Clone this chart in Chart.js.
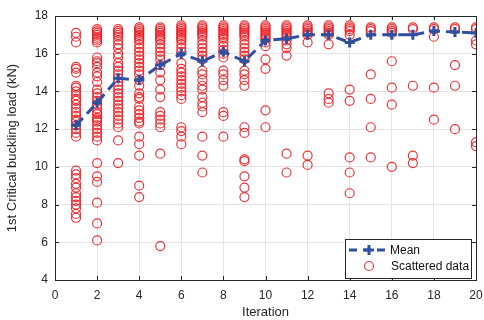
<!DOCTYPE html>
<html>
<head>
<meta charset="utf-8">
<script src="https://cdn.jsdelivr.net/npm/chart.js@4.4.0/dist/chart.umd.min.js"></script>
<style>
  html, body { margin: 0; padding: 0; background: #fff; }
  #wrap { width: 484px; height: 320px; }
</style>
</head>
<body>
<div id="wrap"><canvas id="loadChart" width="484" height="320"></canvas></div>
<script>
const iterations = [1, 2, 3, 4, 5, 6, 7, 8, 9, 10, 11, 12, 13, 14, 15, 16, 17, 18, 19, 20];
const meanLoad = [12.2, 13.4, 14.7, 14.6, 15.4, 16.0, 15.6, 16.1, 15.6, 16.7, 16.8, 17.0, 17.0, 16.6, 17.0, 17.0, 17.0, 17.2, 17.15, 17.1];

// scattered loads, one list per iteration
const scattered = [
    [17.1, 16.9, 16.6, 15.3, 15.2, 15.0, 14.3, 14.2, 14.0, 13.8, 13.6, 13.5, 13.3, 13.1, 12.9, 12.7, 12.5, 12.4, 12.2, 12.0, 11.8, 11.6, 9.8, 9.6, 9.4, 9.1, 8.9, 8.6, 8.4, 8.2, 8.0, 7.8, 7.5, 7.3],
    [17.3, 17.2, 17.1, 17.0, 16.9, 16.8, 16.7, 16.6, 15.8, 15.6, 15.5, 15.3, 15.0, 14.8, 14.5, 14.1, 13.9, 13.7, 13.5, 13.3, 13.1, 12.9, 12.8, 12.6, 12.5, 12.4, 12.2, 12.0, 11.8, 11.6, 11.4, 10.2, 9.5, 9.2, 8.1, 7.0, 6.1],
    [17.3, 17.2, 17.1, 17.0, 16.9, 16.7, 16.5, 16.3, 16.0, 15.8, 15.5, 15.3, 15.1, 14.9, 14.7, 14.5, 14.3, 14.1, 13.9, 13.7, 13.5, 13.3, 13.1, 12.9, 12.7, 12.5, 12.3, 12.1, 11.4, 10.2],
    [17.4, 17.3, 17.2, 17.1, 17.0, 16.9, 16.8, 16.7, 16.5, 16.3, 16.1, 15.9, 15.7, 15.5, 15.3, 15.1, 14.9, 14.6, 14.3, 13.9, 13.7, 13.6, 13.2, 13.0, 12.8, 12.6, 12.4, 12.3, 11.6, 11.2, 10.6, 9.0, 8.4],
    [17.4, 17.3, 17.2, 17.1, 17.0, 16.9, 16.8, 16.7, 16.5, 16.3, 16.1, 15.9, 15.7, 15.4, 15.0, 14.6, 14.1, 13.7, 12.9, 12.7, 12.5, 12.3, 12.1, 10.7, 5.8],
    [17.5, 17.4, 17.3, 17.2, 17.1, 17.0, 16.9, 16.8, 16.7, 16.5, 16.3, 16.1, 15.5, 15.2, 15.0, 14.8, 14.6, 14.4, 14.2, 14.0, 13.8, 13.6, 12.1, 11.9, 11.6, 11.2],
    [17.5, 17.4, 17.3, 17.2, 17.1, 17.0, 16.9, 16.7, 16.5, 16.3, 16.1, 15.9, 15.7, 15.1, 14.9, 14.6, 14.3, 14.1, 13.7, 13.4, 13.2, 12.9, 11.6, 10.6, 9.7],
    [17.5, 17.4, 17.3, 17.2, 17.1, 17.0, 16.9, 16.8, 16.6, 16.4, 16.2, 16.0, 15.8, 15.1, 14.9, 14.6, 14.3, 12.9, 12.7, 11.6],
    [17.5, 17.4, 17.3, 17.2, 17.1, 17.0, 16.9, 16.7, 16.5, 16.3, 16.1, 15.9, 15.7, 15.1, 14.9, 14.6, 14.3, 12.1, 11.8, 10.4, 10.3, 9.5, 8.9, 8.4],
    [17.5, 17.4, 17.3, 17.2, 17.1, 17.0, 16.9, 16.8, 16.6, 16.4, 15.7, 15.2, 13.0, 12.1],
    [17.5, 17.4, 17.3, 17.2, 17.1, 17.0, 16.9, 16.7, 16.5, 16.3, 15.9, 10.7, 9.7],
    [17.5, 17.4, 17.3, 17.2, 17.1, 17.0, 16.6, 10.6, 10.1],
    [17.5, 17.4, 17.3, 17.2, 17.1, 17.0, 16.5, 13.9, 13.6, 13.4],
    [17.5, 17.4, 17.3, 17.2, 17.0, 14.1, 13.5, 10.5, 9.7, 8.6],
    [17.4, 17.3, 17.2, 14.9, 13.6, 12.1, 10.5],
    [17.4, 17.3, 17.2, 17.1, 15.6, 14.2, 13.3, 10.0],
    [17.4, 17.3, 14.3, 10.6, 10.2],
    [17.4, 17.3, 16.9, 14.2, 12.5],
    [17.4, 17.3, 15.4, 14.3, 12.0],
    [17.4, 17.3, 16.7, 16.5, 11.3, 11.1]
];

const xRange = [0, 20];
const yRange = [4, 18];
const tickStep = 2;

const meanColor = '#2f4f9f';
const dotColor = 'rgba(236, 30, 36, 0.9)';
const axisColor = '#262626';
const fontFamily = '"Liberation Sans", Arial, sans-serif';

const scatterPoints = [];
scattered.forEach((vals, i) => {
    vals.forEach(v => scatterPoints.push({ x: iterations[i], y: v }));
});

// MATLAB-like box with inward ticks, plus legend inside the axes
const boxPlugin = {
    id: 'boxPlugin',
    afterDraw(chart) {
        const { ctx, chartArea: a, scales } = chart;
        ctx.save();
        ctx.strokeStyle = axisColor;
        ctx.lineWidth = 1;
        ctx.strokeRect(a.left + 0.5, a.top + 0.5, a.right - a.left, a.bottom - a.top);
        ctx.beginPath();
        scales.x.ticks.forEach(t => {
            const px = Math.round(scales.x.getPixelForValue(t.value)) + 0.5;
            ctx.moveTo(px, a.top); ctx.lineTo(px, a.top + 4);
            ctx.moveTo(px, a.bottom); ctx.lineTo(px, a.bottom - 4);
        });
        scales.y.ticks.forEach(t => {
            const py = Math.round(scales.y.getPixelForValue(t.value)) + 0.5;
            ctx.moveTo(a.left, py); ctx.lineTo(a.left + 4, py);
            ctx.moveTo(a.right, py); ctx.lineTo(a.right - 4, py);
        });
        ctx.stroke();

        // legend
        const lx = a.right - 131, ly = a.bottom - 41, lw = 126, lh = 39;
        ctx.fillStyle = '#fff';
        ctx.fillRect(lx, ly, lw, lh);
        ctx.strokeStyle = axisColor;
        ctx.strokeRect(lx + 0.5, ly + 0.5, lw, lh);

        const y1 = ly + 11, y2 = ly + 27;
        ctx.strokeStyle = meanColor;
        ctx.lineWidth = 3;
        ctx.setLineDash([8, 6]);
        ctx.beginPath();
        ctx.moveTo(lx + 4, y1); ctx.lineTo(lx + 44, y1);
        ctx.stroke();
        ctx.setLineDash([]);
        ctx.beginPath();
        ctx.moveTo(lx + 19, y1); ctx.lineTo(lx + 29, y1);
        ctx.moveTo(lx + 24, y1 - 5); ctx.lineTo(lx + 24, y1 + 5);
        ctx.stroke();

        ctx.strokeStyle = dotColor;
        ctx.lineWidth = 1.2;
        ctx.beginPath();
        ctx.arc(lx + 24, y2, 4.5, 0, Math.PI * 2);
        ctx.stroke();

        ctx.fillStyle = '#111';
        ctx.font = '12px ' + fontFamily;
        ctx.textBaseline = 'middle';
        ctx.fillText('Mean', lx + 45, y1 + 1);
        ctx.fillText('Scattered data', lx + 46, y2 + 1);
        ctx.restore();
    }
};

new Chart(document.getElementById('loadChart'), {
    type: 'scatter',
    data: {
        datasets: [{
            type: 'line',
            label: 'Mean',
            data: iterations.map((it, i) => ({ x: it, y: meanLoad[i] })),
            borderColor: meanColor,
            borderWidth: 3,
            borderDash: [10, 6],
            fill: false,
            tension: 0,
            pointStyle: 'cross',
            pointRadius: 5,
            pointBorderWidth: 3,
            pointBorderColor: meanColor,
            pointBackgroundColor: meanColor
        }, {
            label: 'Scattered data',
            data: scatterPoints,
            pointStyle: 'circle',
            pointRadius: 4.5,
            borderWidth: 1.2,
            borderColor: dotColor,
            backgroundColor: 'rgba(0,0,0,0)'
        }]
    },
    options: {
        responsive: false,
        animation: false,
        devicePixelRatio: 1,
        layout: { padding: { left: 0, top: 16, right: 7, bottom: 0 } },
        plugins: { legend: { display: false }, tooltip: { enabled: false } },
        scales: {
            x: {
                type: 'linear',
                min: xRange[0], max: xRange[1],
                ticks: { stepSize: tickStep, color: axisColor, padding: 8, maxRotation: 0, font: { family: fontFamily, size: 12 } },
                grid: { color: '#e4e4e4', drawTicks: false },
                border: { display: false },
                title: { display: true, text: 'Iteration', color: axisColor, padding: { top: 0, bottom: 0 }, font: { family: fontFamily, size: 13 } },
                afterFit(scale) { scale.height = 40; scale.paddingLeft = 0; scale.paddingRight = 0; }
            },
            y: {
                min: yRange[0], max: yRange[1],
                ticks: { stepSize: tickStep, color: axisColor, padding: 7, font: { family: fontFamily, size: 12 } },
                grid: { color: '#e4e4e4', drawTicks: false },
                border: { display: false },
                title: { display: true, text: '1st Critical buckling load (kN)', color: axisColor, padding: { top: 5, bottom: 0 }, font: { family: fontFamily, size: 13 } },
                afterFit(scale) { scale.width = 55; scale.paddingTop = 0; scale.paddingBottom = 0; }
            }
        }
    },
    plugins: [boxPlugin]
});
</script>
</body>
</html>
